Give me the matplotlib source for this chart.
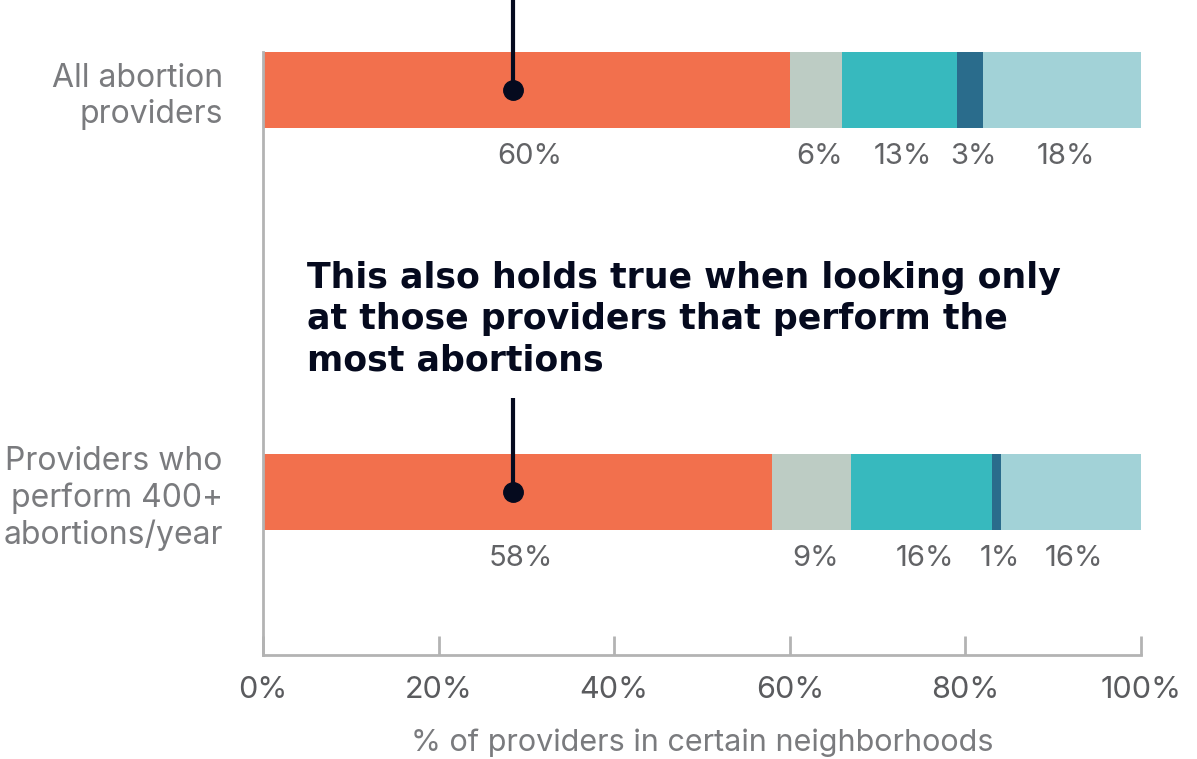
import matplotlib
matplotlib.use("Agg")
import matplotlib.pyplot as plt
import numpy as np

categories = ["All abortion\nproviders", "Providers who\nperform 400+\nabortions/year"]
seg_a = [60, 58]
seg_b = [6, 9]
seg_c = [13, 16]
seg_d = [3, 1]
seg_e = [18, 16]
segments = [seg_a, seg_b, seg_c, seg_d, seg_e]
colors = ["#F2704D", "#BDCCC4", "#37B9BE", "#2A6C8C", "#A2D2D7"]
xticks = [0, 20, 40, 60, 80, 100]
xticklabels = ["0%", "20%", "40%", "60%", "80%", "100%"]
note = ("This also holds true when looking only\n"
        "at those providers that perform the\n"
        "most abortions")
marker_x = 28.5

plt.rcParams['font.family'] = ['Inter', 'DejaVu Sans']
grey = "#b3b3b3"

fig = plt.figure(figsize=(11.97, 7.59), dpi=100)
ax = fig.add_axes([263/1197, 1 - 655/759, 878/1197, 603/759])

ypos = [1, 0]
h = 0.189
left = np.zeros(2)
for vals, c in zip(segments, colors):
    vals = np.array(vals, dtype=float)
    ax.barh(ypos, vals, left=left, height=h, color=c, linewidth=0)
    for y, l, v in zip(ypos, left, vals):
        ax.text(l + v / 2 + 0.4, y - 0.165, f"{int(v)}%", ha="center", va="center",
                fontsize=21, color="#626366")
    left += vals

ax.set_xlim(0, 100)
ax.set_ylim(-0.405, 1 + h / 2)

for s in ["top", "right"]:
    ax.spines[s].set_visible(False)
for s in ["left", "bottom"]:
    ax.spines[s].set_color(grey)
    ax.spines[s].set_linewidth(2)

ax.set_xticks(xticks)
ax.set_xticklabels(xticklabels)
ax.tick_params(axis="x", direction="in", length=14, width=2, color=grey,
               pad=15, labelsize=22, labelcolor="#5a5b5e")
ax.set_yticks(ypos)
ax.set_yticklabels(categories, linespacing=1.22)
ax.tick_params(axis="y", length=0, pad=29, labelsize=23, labelcolor="#7a7b7e")
ax.set_xlabel("% of providers in certain neighborhoods", fontsize=22,
              color="#7a7b7e", labelpad=18)

# annotation pins
navy = "#050a1e"
ax.plot([marker_x, marker_x], [1, 1.3], color=navy, lw=3, clip_on=False,
        solid_capstyle="butt")
ax.plot([marker_x, marker_x], [0, 0.234], color=navy, lw=3, clip_on=False,
        solid_capstyle="butt")
ax.plot([marker_x, marker_x], [1, 0], "o", color=navy, ms=14, clip_on=False)

ax.text(5.0, 0.575, note, fontsize=25, fontweight="bold", color=navy,
        family=["DejaVu Sans"], va="top", ha="left",
        linespacing=1.27)

fig.savefig("out.png", dpi=100)
